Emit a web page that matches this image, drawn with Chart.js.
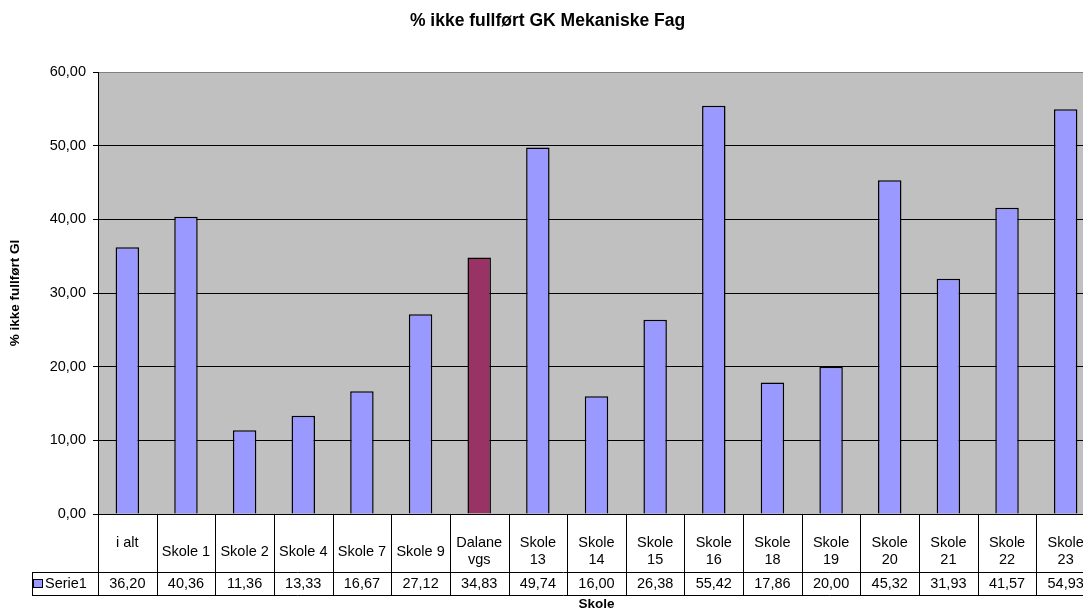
<!DOCTYPE html>
<html>
<head>
<meta charset="utf-8">
<title>% ikke fullført GK Mekaniske Fag</title>
<script src="https://cdn.jsdelivr.net/npm/chart.js@4/dist/chart.umd.min.js"></script>
<style>
  html, body { margin: 0; padding: 0; background: #ffffff; overflow: hidden; }
  #wrap { width: 1100px; height: 612px; }
</style>
</head>
<body>
<div id="wrap"><canvas id="chart" width="1100" height="612"></canvas></div>
<script>
// Schools (wrapped labels are given as arrays of lines)
const categories = [
  ['i alt', ''], 'Skole 1', 'Skole 2', 'Skole 4', 'Skole 7', 'Skole 9',
  ['Dalane', 'vgs'], ['Skole', '13'], ['Skole', '14'], ['Skole', '15'], ['Skole', '16'],
  ['Skole', '18'], ['Skole', '19'], ['Skole', '20'], ['Skole', '21'], ['Skole', '22'], ['Skole', '23']
];
// Share not completing GK Mekaniske Fag, %
const serie1 = [36.20, 40.36, 11.36, 13.33, 16.67, 27.12, 34.83, 49.74, 16.00, 26.38, 55.42, 17.86, 20.00, 45.32, 31.93, 41.57, 54.93];
const seriesName = 'Serie1';
const highlighted = 'Dalane';
const yTicks = [0, 10, 20, 30, 40, 50, 60];

const FONT = "'Liberation Sans', Arial, sans-serif";
const TXT = 14.5;
const BAR = '#9999FF';
const BAR_HI = '#993366';
const fmt = v => v.toFixed(2).replace('.', ',');
const firstLine = c => Array.isArray(c) ? c[0] : c;

// Grey plot background
const plotBg = {
  id: 'plotBg',
  beforeDraw(chart) {
    const { ctx, chartArea: a } = chart;
    ctx.save();
    ctx.fillStyle = '#C0C0C0';
    ctx.fillRect(a.left, a.top, a.right - a.left, a.bottom - a.top);
    ctx.restore();
  }
};

// Data table under the plot: category row + value row with legend key
const dataTable = {
  id: 'dataTable',
  afterDraw(chart) {
    const { ctx, chartArea: a } = chart;
    const x = chart.scales.x;
    const n = categories.length;
    const w = (x.right - x.left) / n;
    const top = a.bottom, mid = top + 58, bot = top + 81;
    const legLeft = 32;

    ctx.save();
    ctx.strokeStyle = '#000000';
    ctx.lineWidth = 1;
    ctx.beginPath();
    for (let i = 0; i <= n; i++) {
      const px = Math.round(x.left + i * w) + 0.5;
      ctx.moveTo(px, top);
      ctx.lineTo(px, bot);
    }
    ctx.moveTo(legLeft + 0.5, mid);
    ctx.lineTo(legLeft + 0.5, bot);
    ctx.moveTo(legLeft, Math.round(mid) + 0.5);
    ctx.lineTo(x.right, Math.round(mid) + 0.5);
    ctx.moveTo(legLeft, Math.round(bot) + 0.5);
    ctx.lineTo(x.right, Math.round(bot) + 0.5);
    ctx.stroke();

    ctx.fillStyle = '#000000';
    ctx.font = TXT + 'px ' + FONT;
    ctx.textAlign = 'center';
    ctx.textBaseline = 'middle';
    categories.forEach((c, i) => {
      const cx = x.getPixelForValue(i);
      if (Array.isArray(c)) {
        ctx.fillText(c[0], cx, top + 29);
        if (c[1]) ctx.fillText(c[1], cx, top + 46);
      } else {
        ctx.fillText(c, cx, top + 38);
      }
      ctx.fillText(fmt(serie1[i]), cx, mid + 12);
    });

    // legend key
    ctx.fillStyle = BAR;
    ctx.fillRect(33.5, mid + 7.5, 9, 8);
    ctx.strokeRect(33.5, mid + 7.5, 9, 8);
    ctx.fillStyle = '#000000';
    ctx.textAlign = 'left';
    ctx.fillText(seriesName, 45, mid + 12);
    ctx.restore();
  }
};

new Chart(document.getElementById('chart'), {
  type: 'bar',
  data: {
    labels: categories,
    datasets: [{
      label: seriesName,
      data: serie1,
      backgroundColor: categories.map(c => firstLine(c) === highlighted ? BAR_HI : BAR),
      borderColor: '#000000',
      borderWidth: 1.5,
      barPercentage: 0.4,
      categoryPercentage: 1.0
    }]
  },
  options: {
    responsive: false,
    animation: false,
    devicePixelRatio: 1,
    layout: { padding: { left: 0, right: 5, top: 0, bottom: 0 } },
    plugins: {
      legend: { display: false },
      tooltip: { enabled: false },
      title: {
        display: true,
        text: '% ikke fullført GK Mekaniske Fag',
        color: '#000000',
        font: { family: FONT, size: 17.5, weight: 'bold', lineHeight: 1.2 },
        padding: { top: 10.5, bottom: 40.5 }
      }
    },
    scales: {
      x: {
        ticks: { display: false },
        grid: { display: false },
        border: { display: true, color: '#000000', width: 1 },
        title: {
          display: true,
          text: 'Skole',
          color: '#000000',
          font: { family: FONT, size: 13.5, weight: 'bold', lineHeight: 1.2 },
          padding: { top: 0, bottom: 0 }
        },
        afterFit(s) { s.height = 98; }
      },
      y: {
        min: 0,
        max: 60,
        afterBuildTicks(s) { s.ticks = yTicks.map(v => ({ value: v })); },
        ticks: {
          color: '#000000',
          font: { family: FONT, size: TXT },
          padding: 7,
          callback: v => fmt(v)
        },
        grid: {
          color: ctx => ctx.tick && ctx.tick.value === 60 ? '#808080' : '#000000',
          tickColor: '#000000',
          tickLength: 5,
          lineWidth: 1
        },
        border: { display: true, color: '#000000', width: 1 },
        title: {
          display: true,
          text: '% ikke fullført Gl',
          color: '#000000',
          font: { family: FONT, size: 13.5, weight: 'bold', lineHeight: 1.2 },
          padding: { top: 7, bottom: 0 }
        },
        afterFit(s) { s.width = 98; }
      }
    }
  },
  plugins: [plotBg, dataTable]
});
</script>
</body>
</html>
